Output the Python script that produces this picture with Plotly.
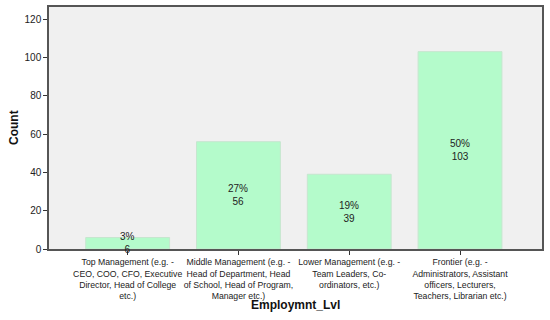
import plotly.graph_objects as go

categories = [
    "Top Management (e.g. -<br>CEO, COO, CFO, Executive<br>Director, Head of College<br>etc.)",
    "Middle Management (e.g. -<br>Head of Department, Head<br>of School, Head of Program,<br>Manager etc.)",
    "Lower Management (e.g. -<br>Team Leaders, Co-<br>ordinators, etc.)",
    "Frontier (e.g. -<br>Administrators, Assistant<br>officers, Lecturers,<br>Teachers, Librarian etc.)",
]
counts = [6, 56, 39, 103]
percents = ["3%", "27%", "19%", "50%"]
y_ticks = [0, 20, 40, 60, 80, 100, 120]

xs = list(range(len(categories)))
fig = go.Figure()
fig.add_trace(go.Bar(
    x=xs, y=counts, width=0.757,
    marker=dict(color="#b4fbcb", line=dict(color="#c6e6cf", width=1)),
    hoverinfo="skip",
))
for i, (c, p) in enumerate(zip(counts, percents)):
    fig.add_annotation(x=i, y=c / 2, text=f"{p}<br>{c}", showarrow=False,
                       font=dict(family="Liberation Sans, Arial", size=10, color="#222"))

fig.add_annotation(xref="paper", yref="paper", x=0.5, y=0, yshift=-56,
                   yanchor="middle", text="<b>Employmnt_Lvl</b>", showarrow=False,
                   font=dict(family="Liberation Sans, Arial", size=12, color="#111"))
fig.add_annotation(xref="paper", yref="paper", x=0, xshift=-35, y=0.5,
                   xanchor="center", text="<b>Count</b>", textangle=-90, showarrow=False,
                   font=dict(family="Liberation Sans, Arial", size=12, color="#111"))

fig.update_layout(
    width=550, height=320,
    margin=dict(l=49, r=8, t=7, b=71),
    paper_bgcolor="white", plot_bgcolor="#f0f0f0",
    showlegend=False,
    font=dict(family="Liberation Sans, Arial", size=9, color="#222"),
)
fig.update_xaxes(
    range=[-0.71, 3.74], tickvals=xs, ticktext=categories,
    ticks="outside", ticklen=4, tickcolor="#333",
    showline=True, linecolor="#555", linewidth=1.5, mirror=True,
    showgrid=False, zeroline=False, tickangle=0, automargin=False,
    tickfont=dict(size=8.7),
)
fig.update_yaxes(
    range=[0, 126.3], tickvals=y_ticks,
    ticks="outside", ticklen=4, tickcolor="#333",
    showline=True, linecolor="#555", linewidth=1.5, mirror=True,
    showgrid=False, zeroline=False, automargin=False,
    tickfont=dict(size=10),
)
fig.write_html("out.html", config={"displayModeBar": False},
               post_script="document.body.style.margin='0';document.body.style.overflow='hidden';")
